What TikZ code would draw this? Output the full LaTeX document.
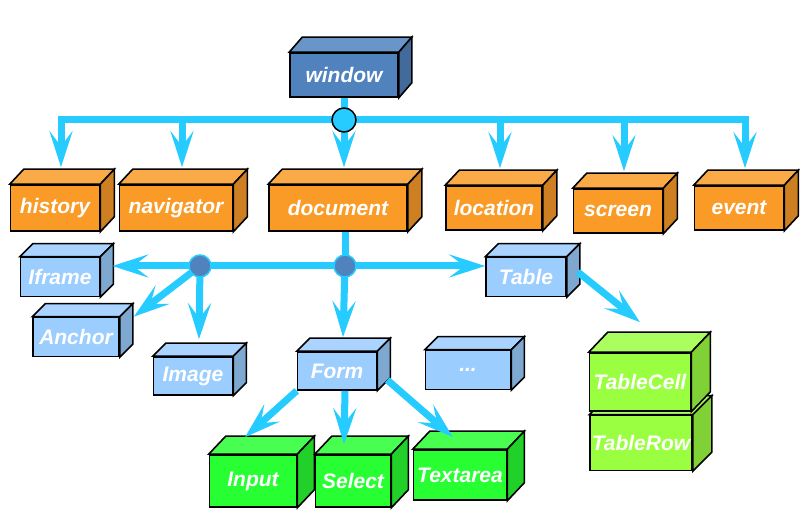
\documentclass[tikz,border=0pt]{standalone}
\usepackage{fontspec}
\setmainfont{Liberation Sans}
\usepackage{tikz}
\usetikzlibrary{arrows.meta}
\definecolor{linkblue}{RGB}{38,204,255}
\definecolor{winblue}{RGB}{80,130,190}
\definecolor{objorange}{RGB}{250,155,40}
\definecolor{domblue}{RGB}{155,205,255}
\definecolor{formgreen}{RGB}{40,255,50}
\definecolor{tablelime}{RGB}{155,255,65}
\tikzstyle{cube}=[draw,line width=1.6pt,inner sep=0pt,text=white,
  font=\bfseries\itshape\fontsize{21}{24}\selectfont]
\tikzstyle{cube edge}=[draw,line width=1.6pt]
\tikzstyle{link}=[draw=linkblue,line width=7pt]
\tikzstyle{link arrow}=[link,-{Stealth[length=36pt,width=23pt,inset=15pt]}]
\tikzstyle{hub}=[circle,inner sep=0pt,minimum size=24pt]
% box with a top and a side face: options, name, position, text, colour, depth
\newcommand{\cubenode}[6][]{
  \node [cube, fill=#5, #1] (#2) at #3 {#4};
  \filldraw [cube edge, fill=#5!85!white] (#2.north west) -- ++(#6)
    -- ([shift={(#6)}]#2.north east) -- (#2.north east) -- cycle;
  \filldraw [cube edge, fill=#5!82!black] (#2.north east)
    -- ([shift={(#6)}]#2.north east) -- ([shift={(#6)}]#2.south east)
    -- (#2.south east) -- cycle;
}

\begin{document}
\begin{tikzpicture}[x=1pt,y=1pt]
  \useasboundingbox (0,0) rectangle (810,524);

  \cubenode[minimum width=108pt,minimum height=44pt]{window}{(344,449)}{window}{winblue}{13pt,15pt}

  \cubenode[minimum width=89pt,minimum height=46pt]{history}{(55,316)}{history}{objorange}{14pt,15pt}
  \cubenode[minimum width=113pt,minimum height=46pt]{navigator}{(176,316)}{navigator}{objorange}{14pt,15pt}
  \cubenode[minimum width=138pt,minimum height=46pt]{document}{(338,316)}{document}{objorange}{14pt,15pt}
  \cubenode[minimum width=96pt,minimum height=44pt]{location}{(494,316)}{location}{objorange}{14pt,15pt}
  \cubenode[minimum width=89pt,minimum height=44pt]{screen}{(618,313)}{screen}{objorange}{14pt,15pt}
  \cubenode[minimum width=89pt,minimum height=44pt]{event}{(739,316)}{event}{objorange}{14pt,15pt}

  \cubenode[minimum width=79pt,minimum height=39pt]{iframe}{(60,247)}{Iframe}{domblue}{13pt,13pt}
  \cubenode[minimum width=86pt,minimum height=39pt]{anchor}{(76,187)}{Anchor}{domblue}{13pt,13pt}
  \cubenode[minimum width=79pt,minimum height=38pt]{image}{(193,148)}{Image}{domblue}{13pt,13pt}
  \cubenode[minimum width=79pt,minimum height=38pt]{form}{(337,153)}{Form}{domblue}{13pt,13pt}
  \cubenode[minimum width=80pt,minimum height=39pt]{table}{(526,247)}{Table}{domblue}{13pt,13pt}
  \cubenode[minimum width=85pt,minimum height=39pt]{more}{(468,154)}{...}{domblue}{13pt,13pt}

  \cubenode[minimum width=102pt,minimum height=55pt]{tablerow}{(641,81)}{TableRow}{tablelime}{19pt,19pt}
  \cubenode[minimum width=101pt,minimum height=58pt]{tablecell}{(640,142)}{TableCell}{tablelime}{19pt,20pt}

  \cubenode[minimum width=87pt,minimum height=52pt]{input}{(253,43)}{Input}{formgreen}{17pt,18pt}
  \cubenode[minimum width=75pt,minimum height=52pt]{select}{(353,43)}{Select}{formgreen}{17pt,18pt}
  \cubenode[minimum width=93pt,minimum height=50pt]{textarea}{(460,49)}{Textarea}{formgreen}{17pt,18pt}

  \node [hub] (tophub) at (344,404) {};
  \node [hub,minimum size=22pt] (lefthub) at (200,258) {};
  \node [hub,minimum size=22pt] (righthub) at (345,258) {};

  \draw [link] (window.south) -- (tophub.center);
  \draw [link arrow] (tophub.center) -| ([shift={(6pt,17pt)}]history.north);
  \draw [link arrow] (tophub.center) -| ([shift={(6pt,17pt)}]navigator.north);
  \draw [link arrow] (tophub.center) -- ([shift={(6pt,17pt)}]document.north);
  \draw [link arrow] (tophub.center) -| ([shift={(6pt,17pt)}]location.north);
  \draw [link arrow] (tophub.center) -| ([shift={(6pt,17pt)}]screen.north);
  \draw [link arrow] (tophub.center) -| ([shift={(6pt,17pt)}]event.north);

  \draw [link] (righthub |- document.south) -- (righthub.center);
  \draw [link] (lefthub.center) -- (righthub.center);
  \draw [link arrow] (lefthub.center) -- ([shift={(12pt,11pt)}]iframe.east);
  \draw [link arrow] (lefthub.center) -- ([xshift=14pt]anchor.north east);
  \draw [link arrow] (lefthub.center) -- ([shift={(6pt,17pt)}]image.north);
  \draw [link arrow] (righthub.center) -- ([shift={(6pt,14pt)}]form.north);
  \draw [link arrow] (righthub.center) -- (righthub -| table.west);

  \draw [link arrow] ([shift={(11pt,5pt)}]table.east) -- ([yshift=30pt]tablecell.north);
  \draw [link arrow] (form.south west) -- ([shift={(-8pt,17pt)}]input.north);
  \draw [link arrow] ([xshift=8pt]form.south) -- ([shift={(-9pt,10pt)}]select.north);
  \draw [link arrow] ([shift={(10pt,-9pt)}]form.east) -- ([shift={(-7pt,12pt)}]textarea.north);

  \filldraw [fill=linkblue,draw=black,line width=1.5pt] (tophub) circle (12pt);
  \filldraw [fill=winblue,draw=linkblue,line width=1.5pt] (lefthub) circle (11pt);
  \filldraw [fill=winblue,draw=linkblue,line width=1.5pt] (righthub) circle (11pt);
\end{tikzpicture}
\end{document}
